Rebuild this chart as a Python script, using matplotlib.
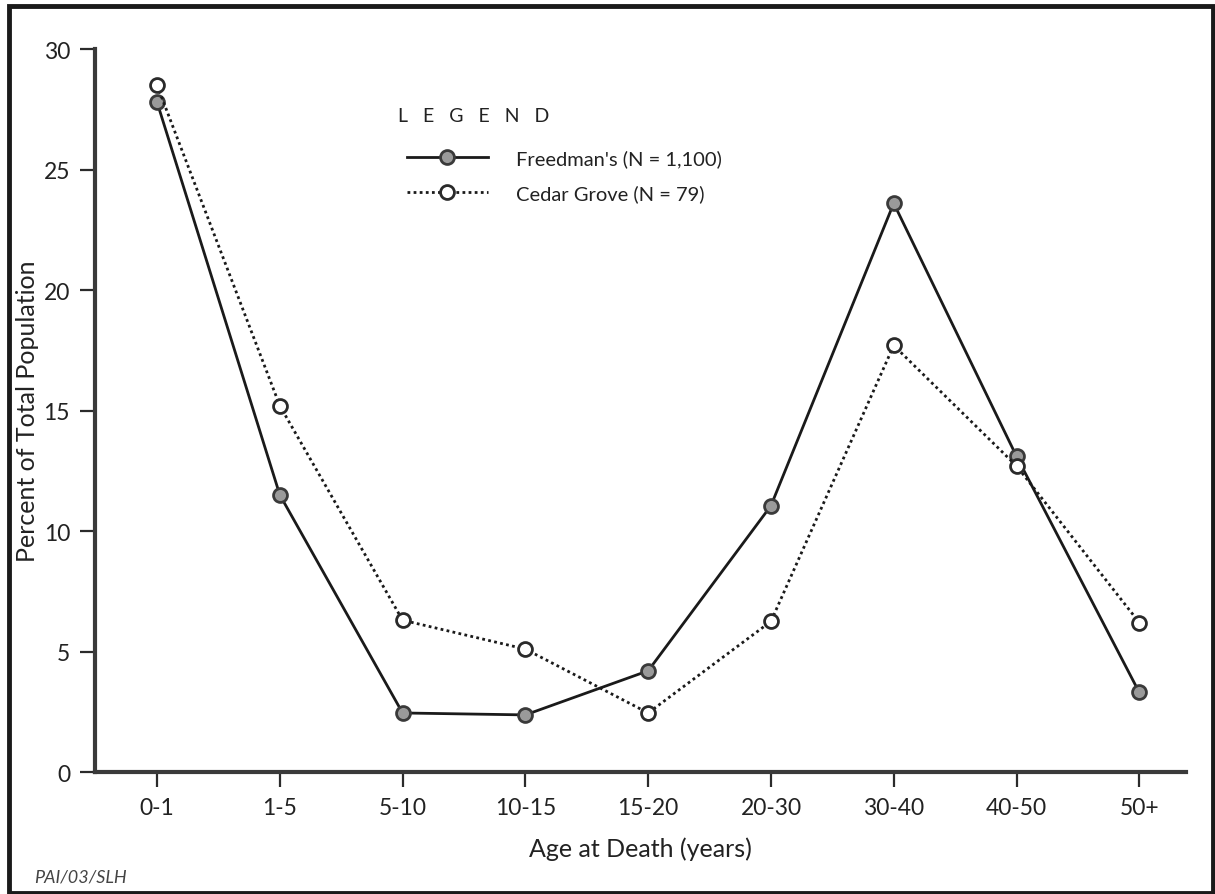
"""Age at death distribution: Freedman's vs Cedar Grove."""
import matplotlib.pyplot as plt
from matplotlib.patches import Rectangle

age_groups = ["0-1", "1-5", "5-10", "10-15", "15-20", "20-30", "30-40", "40-50", "50+"]
freedmans = [27.8, 11.5, 2.45, 2.37, 4.2, 11.05, 23.6, 13.1, 3.3]
cedar_grove = [28.5, 15.2, 6.3, 5.1, 2.45, 6.25, 17.7, 12.7, 6.2]
y_ticks = [0, 5, 10, 15, 20, 25, 30]

plt.rcParams["font.family"] = ["Lato", "DejaVu Sans"]
dark = "#2b2b2b"
text_col = "#222222"

fig = plt.figure(figsize=(12.15, 8.95), dpi=100)
ax = fig.add_axes([0.0782, 0.1363, 0.8979, 0.8078])

x = range(len(age_groups))
ax.plot(x, freedmans, color="#1a1a1a", linewidth=2.0, marker="o", markersize=10,
        markerfacecolor="#9a9a9a", markeredgecolor="#3a3a3a", markeredgewidth=2,
        label="Freedman's (N = 1,100)", zorder=3)
ax.plot(x, cedar_grove, color="#1a1a1a", linewidth=2.0, linestyle=(0, (1, 1.2)),
        marker="o", markersize=10, markerfacecolor="white",
        markeredgecolor="#2a2a2a", markeredgewidth=2,
        label="Cedar Grove (N = 79)", zorder=3)

ax.set_xlim(-0.505, 8.38)
ax.set_ylim(0, 30)
ax.set_xticks(list(x))
ax.set_xticklabels(age_groups)
ax.set_yticks(y_ticks)

for side in ("top", "right"):
    ax.spines[side].set_visible(False)
for side in ("left", "bottom"):
    ax.spines[side].set_linewidth(3)
    ax.spines[side].set_color("#3a3a3a")
ax.tick_params(axis="both", direction="out", length=11, width=1.6, color=dark,
               labelsize=16.5, labelcolor=text_col)
ax.tick_params(axis="x", pad=7)
ax.tick_params(axis="y", pad=7)

ax.set_xlabel("Age at Death (years)", fontsize=18, color=text_col, labelpad=13)
ax.set_ylabel("Percent of Total Population", fontsize=18, color=text_col, labelpad=3)

# legend: spaced-out title drawn as text, entries via ax.legend
fig.text(398 / 1215, 1 - 117 / 895, "L   E   G   E   N   D", fontsize=14,
         color=text_col, va="center", ha="left")
leg = ax.legend(loc="upper left", bbox_to_anchor=(0.335, 0.832),
                bbox_transform=fig.transFigure, frameon=False, fontsize=14.5,
                handlelength=4.0, handletextpad=1.4, labelspacing=0.85,
                borderpad=0, borderaxespad=0)
for t in leg.get_texts():
    t.set_color(text_col)

fig.text(0.028, 0.02, "PAI/03/SLH", fontsize=13, style="italic", color="#444444",
         va="center")

fig.patches.append(Rectangle((0.007, 0.001), 0.9914, 0.9916, transform=fig.transFigure,
                             fill=False, edgecolor="#1a1a1a", linewidth=3.5))

fig.savefig("out.png", dpi=100)
